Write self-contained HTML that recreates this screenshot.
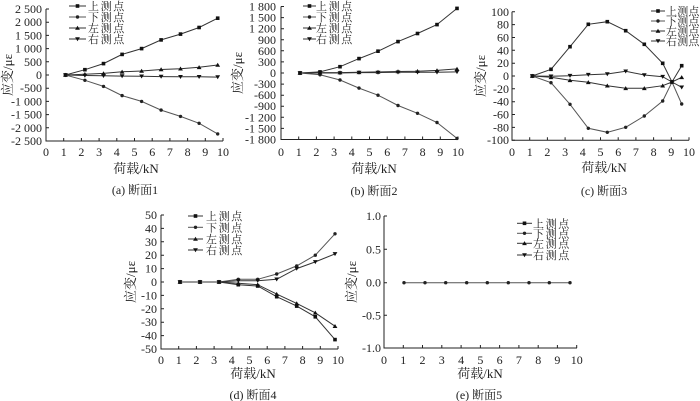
<!DOCTYPE html>
<html><head><meta charset="utf-8"><style>
html,body{margin:0;padding:0;background:#fff;}
svg{display:block;}
text{font-family:"Liberation Serif","Noto Serif CJK SC",serif;fill:#222;}
.t{font-size:12px;}
.r{text-anchor:end;}
.m{text-anchor:middle;}
.lg{font-size:11px;letter-spacing:1.6px;font-family:"Liberation Serif","Noto Serif CJK SC",serif;}
.lgc{font-size:11px;letter-spacing:0.2px;font-family:"Liberation Serif","Noto Serif CJK SC",serif;}
.ti{font-size:13px;font-family:"Liberation Serif","Noto Serif CJK SC",serif;}
.cap{font-size:12px;font-family:"Liberation Serif","Noto Serif CJK SC",serif;}
.ax{stroke:#222;stroke-width:1;fill:none;}
.s{stroke:#333;stroke-width:1;fill:none;}
.s2{stroke:#555;stroke-width:1;fill:none;}
.sq{marker-start:url(#msq);marker-mid:url(#msq);marker-end:url(#msq);}
.ci{marker-start:url(#mci);marker-mid:url(#mci);marker-end:url(#mci);}
.tu{marker-start:url(#mtu);marker-mid:url(#mtu);marker-end:url(#mtu);}
.td{marker-start:url(#mtd);marker-mid:url(#mtd);marker-end:url(#mtd);}
.lsq{marker-mid:url(#msq);}
.lci{marker-mid:url(#mci);}
.ltu{marker-mid:url(#mtu);}
.ltd{marker-mid:url(#mtd);}
</style></head><body>
<svg width="700" height="401" viewBox="0 0 700 401" xmlns="http://www.w3.org/2000/svg">
<defs>
<marker id="msq" markerWidth="6" markerHeight="6" refX="3" refY="3" markerUnits="userSpaceOnUse"><rect x="1.2" y="1.2" width="3.6" height="3.6" fill="#111"/></marker>
<marker id="mci" markerWidth="6" markerHeight="6" refX="3" refY="3" markerUnits="userSpaceOnUse"><circle cx="3" cy="3" r="1.7" fill="#222"/></marker>
<marker id="mtu" markerWidth="6" markerHeight="6" refX="3" refY="3" markerUnits="userSpaceOnUse"><path d="M3 0.8 L5.4 4.8 L0.6 4.8Z" fill="#111"/></marker>
<marker id="mtd" markerWidth="6" markerHeight="6" refX="3" refY="3" markerUnits="userSpaceOnUse"><path d="M0.6 1.2 L5.4 1.2 L3 5.2Z" fill="#111"/></marker>
</defs>
<rect width="700" height="401" fill="#fff"/>

<!-- ===== (a) ===== -->
<g>
<path class="ax" d="M46 9 V141 H223"/>
<path class="ax" d="M46 9h3M46 22.2h3M46 35.4h3M46 48.6h3M46 61.8h3M46 75h3M46 88.2h3M46 101.4h3M46 114.6h3M46 127.8h3M46 141h3"/>
<path class="ax" d="M63.7 141v-3M81.4 141v-3M99.1 141v-3M116.8 141v-3M134.5 141v-3M152.2 141v-3M169.9 141v-3M187.6 141v-3M205.3 141v-3M223 141v-3"/>
<g class="t r">
<text x="42" y="13">2 500</text><text x="42" y="26.2">2 000</text><text x="42" y="39.4">1 500</text><text x="42" y="52.6">1 000</text><text x="42" y="65.8">500</text><text x="42" y="79">0</text><text x="42" y="92.2">-500</text><text x="42" y="105.4">-1 000</text><text x="42" y="118.6">-1 500</text><text x="42" y="131.8">-2 000</text><text x="42" y="145">-2 500</text>
</g>
<g class="t m">
<text x="46" y="156">0</text><text x="63.7" y="156">1</text><text x="81.4" y="156">2</text><text x="99.1" y="156">3</text><text x="116.8" y="156">4</text><text x="134.5" y="156">5</text><text x="152.2" y="156">6</text><text x="169.9" y="156">7</text><text x="187.6" y="156">8</text><text x="205.3" y="156">9</text><text x="223" y="156">10</text>
</g>
<polyline class="s sq" points="65.5,75 84.9,69.7 103.5,63.6 122.1,54.4 141.6,48.6 161.1,39.9 180.5,34.1 199.1,27.5 217.7,18.2"/>
<polyline class="s2 ci" points="65.5,75 84.9,80.3 103.5,86.4 122.1,95.6 141.6,101.4 161.1,110.1 180.5,116.4 199.1,123.3 217.7,133.9"/>
<polyline class="s tu" points="65.5,75 84.9,74.2 103.5,73.4 122.1,71.8 141.6,71 161.1,69.5 180.5,68.7 199.1,67.3 217.7,65"/>
<polyline class="s td" points="65.5,75 84.9,75.5 103.5,75.8 122.1,76.1 141.6,76.3 161.1,76.6 180.5,76.8 199.1,76.8 217.7,77.1"/>
<polyline class="s lsq" points="69,6 77.5,6 86,6"/><text class="lg" x="88" y="10">上测点</text>
<polyline class="s2 lci" points="69,17 77.5,17 86,17"/><text class="lg" x="88" y="21">下测点</text>
<polyline class="s ltu" points="69,28 77.5,28 86,28"/><text class="lg" x="88" y="32">左测点</text>
<polyline class="s ltd" points="69,39 77.5,39 86,39"/><text class="lg" x="88" y="43">右测点</text>
<text class="ti m" transform="translate(12,75) rotate(-90)">应变/με</text>
<text class="ti m" x="136" y="173">荷载/kN</text>
<text class="cap m" x="135" y="194">(a) 断面1</text>
</g>

<!-- ===== (b) ===== -->
<g>
<path class="ax" d="M281 6.5 V139.5 H458"/>
<path class="ax" d="M281 6.5h3M281 17.6h3M281 28.7h3M281 39.8h3M281 50.8h3M281 61.9h3M281 73h3M281 84.1h3M281 95.2h3M281 106.2h3M281 117.3h3M281 128.4h3M281 139.5h3"/>
<path class="ax" d="M298.7 139.5v-3M316.4 139.5v-3M334.1 139.5v-3M351.8 139.5v-3M369.5 139.5v-3M387.2 139.5v-3M404.9 139.5v-3M422.6 139.5v-3M440.3 139.5v-3M458 139.5v-3"/>
<g class="t r">
<text x="276" y="10.5">1 800</text><text x="276" y="21.6">1 500</text><text x="276" y="32.7">1 200</text><text x="276" y="43.8">900</text><text x="276" y="54.8">600</text><text x="276" y="65.9">300</text><text x="276" y="77">0</text><text x="276" y="88.1">-300</text><text x="276" y="99.2">-600</text><text x="276" y="110.2">-900</text><text x="276" y="121.3">-1 200</text><text x="276" y="132.4">-1 500</text><text x="276" y="143.5">-1 800</text>
</g>
<g class="t m">
<text x="281" y="156">0</text><text x="298.7" y="156">1</text><text x="316.4" y="156">2</text><text x="334.1" y="156">3</text><text x="351.8" y="156">4</text><text x="369.5" y="156">5</text><text x="387.2" y="156">6</text><text x="404.9" y="156">7</text><text x="422.6" y="156">8</text><text x="440.3" y="156">9</text><text x="458" y="156">10</text>
</g>
<polyline class="s sq" points="300,73 320,71.9 340,66.7 359,58.6 378,51.2 398,41.6 417.5,33.5 437,24.6 457,8.4"/>
<polyline class="s2 ci" points="300,73 320,74.8 340,80 359,88.1 378,95.2 398,105.5 417.5,113.3 437,122.5 457,138.4"/>
<polyline class="s tu" points="300,73 320,72.6 340,72.6 359,72.3 378,71.9 398,71.5 417.5,71.2 437,70.4 457,68.9"/>
<polyline class="s td" points="300,73 320,73 340,73 359,72.6 378,72.6 398,72.3 417.5,72.3 437,72.3 457,71.9"/>
<polyline class="s lsq" points="303,6 309.5,6 316,6"/><text class="lg" x="316" y="10">上测点</text>
<polyline class="s2 lci" points="303,17 309.5,17 316,17"/><text class="lg" x="316" y="21">下测点</text>
<polyline class="s ltu" points="303,28 309.5,28 316,28"/><text class="lg" x="316" y="32">左测点</text>
<polyline class="s ltd" points="303,39 309.5,39 316,39"/><text class="lg" x="316" y="43">右测点</text>
<text class="ti m" transform="translate(242,73) rotate(-90)">应变/με</text>
<text class="ti m" x="374" y="173">荷载/kN</text>
<text class="cap m" x="374" y="195">(b) 断面2</text>
</g>

<!-- ===== (c) ===== -->
<g>
<path class="ax" d="M512 11.8 V140.2 H689"/>
<path class="ax" d="M512 11.8h3M512 24.6h3M512 37.5h3M512 50.3h3M512 63.2h3M512 76h3M512 88.8h3M512 101.7h3M512 114.5h3M512 127.4h3M512 140.2h3"/>
<path class="ax" d="M529.7 140.2v-3M547.4 140.2v-3M565.1 140.2v-3M582.8 140.2v-3M600.5 140.2v-3M618.2 140.2v-3M635.9 140.2v-3M653.6 140.2v-3M671.3 140.2v-3M689 140.2v-3"/>
<g class="t r">
<text x="509" y="15.8">100</text><text x="509" y="28.6">80</text><text x="509" y="41.5">60</text><text x="509" y="54.3">40</text><text x="509" y="67.2">20</text><text x="509" y="80">0</text><text x="509" y="92.8">-20</text><text x="509" y="105.7">-40</text><text x="509" y="118.5">-60</text><text x="509" y="131.4">-80</text><text x="509" y="144.2">-100</text>
</g>
<g class="t m">
<text x="512" y="156">0</text><text x="529.7" y="156">1</text><text x="547.4" y="156">2</text><text x="565.1" y="156">3</text><text x="582.8" y="156">4</text><text x="600.5" y="156">5</text><text x="618.2" y="156">6</text><text x="635.9" y="156">7</text><text x="653.6" y="156">8</text><text x="671.3" y="156">9</text><text x="689" y="156">10</text>
</g>
<polyline class="s sq" points="532.3,76 551,69.3 570,46.7 588.3,24.3 607.3,21.7 625.7,30.7 644.3,44.3 662.7,63.3 672,82 681.7,65.7"/>
<polyline class="s2 ci" points="532.3,76 551,82.7 570,104.3 588.3,128.3 607.3,132.3 625.7,127.3 644.3,116 662.7,101 672,82 681.7,104"/>
<polyline class="s tu" points="532.3,76 551,77.3 570,80.3 588.3,82.3 607.3,85.7 625.7,88.3 644.3,88.3 662.7,85.7 672,82 681.7,77.3"/>
<polyline class="s td" points="532.3,76 551,76.3 570,75.7 588.3,74.7 607.3,74 625.7,71.3 644.3,75 662.7,76.7 672,82 681.7,87.3"/>
<polyline class="s lsq" points="651,11 658,11 665,11"/><text class="lgc" x="666" y="15">上测点</text>
<polyline class="s2 lci" points="651,21 658,21 665,21"/><text class="lgc" x="666" y="25">下测点</text>
<polyline class="s ltu" points="651,31 658,31 665,31"/><text class="lgc" x="666" y="35">左测点</text>
<polyline class="s ltd" points="651,41 658,41 665,41"/><text class="lgc" x="666" y="45">右测点</text>
<text class="ti m" transform="translate(485,76) rotate(-90)">应变/με</text>
<text class="ti m" x="604" y="172">荷载/kN</text>
<text class="cap m" x="604" y="195">(c) 断面3</text>
</g>

<!-- ===== (d) ===== -->
<g>
<path class="ax" d="M161 215 V349 H338"/>
<path class="ax" d="M161 215h3M161 228.4h3M161 241.8h3M161 255.2h3M161 268.6h3M161 282h3M161 295.4h3M161 308.8h3M161 322.2h3M161 335.6h3M161 349h3"/>
<path class="ax" d="M178.7 349v-3M196.4 349v-3M214.1 349v-3M231.8 349v-3M249.5 349v-3M267.2 349v-3M284.9 349v-3M302.6 349v-3M320.3 349v-3M338 349v-3"/>
<g class="t r">
<text x="157" y="219">50</text><text x="157" y="232.4">40</text><text x="157" y="245.8">30</text><text x="157" y="259.2">20</text><text x="157" y="272.6">10</text><text x="157" y="286">0</text><text x="157" y="299.4">-10</text><text x="157" y="312.8">-20</text><text x="157" y="326.2">-30</text><text x="157" y="339.6">-40</text><text x="157" y="353">-50</text>
</g>
<g class="t m">
<text x="161" y="364">0</text><text x="178.7" y="364">1</text><text x="196.4" y="364">2</text><text x="214.1" y="364">3</text><text x="231.8" y="364">4</text><text x="249.5" y="364">5</text><text x="267.2" y="364">6</text><text x="284.9" y="364">7</text><text x="302.6" y="364">8</text><text x="320.3" y="364">9</text><text x="338" y="364">10</text>
</g>
<polyline class="s sq" points="180,282 200,282 219,282 238.3,284.7 257.7,286 276.7,296.7 296.7,306.1 315.3,316.8 335,339.6"/>
<polyline class="s2 ci" points="180,282 200,282 219,282 238.3,279.3 257.7,279.3 276.7,274 296.7,265.9 315.3,255.2 335,233.8"/>
<polyline class="s tu" points="180,282 200,282 219,282 238.3,283.3 257.7,284.7 276.7,294.1 296.7,303.4 315.3,312.8 335,326.2"/>
<polyline class="s td" points="180,282 200,282 219,282 238.3,280.7 257.7,280.7 276.7,279.3 296.7,268.6 315.3,261.9 335,253.9"/>
<polyline class="s lsq" points="188,216 195.5,216 203,216"/><text class="lg" x="206" y="220">上测点</text>
<polyline class="s2 lci" points="188,227.3 195.5,227.3 203,227.3"/><text class="lg" x="206" y="231.3">下测点</text>
<polyline class="s ltu" points="188,239 195.5,239 203,239"/><text class="lg" x="206" y="243">左测点</text>
<polyline class="s ltd" points="188,250 195.5,250 203,250"/><text class="lg" x="206" y="254">右测点</text>
<text class="ti m" transform="translate(135,282) rotate(-90)">应变/με</text>
<text class="ti m" x="253" y="378">荷载/kN</text>
<text class="cap m" x="253" y="399">(d) 断面4</text>
</g>

<!-- ===== (e) ===== -->
<g>
<path class="ax" d="M384 216 V348 H577"/>
<path class="ax" d="M384 216h3M384 249.3h3M384 282.7h3M384 315.3h3M384 348h3"/>
<path class="ax" d="M403.3 348v-3M422.5 348v-3M441.8 348v-3M461.1 348v-3M480.4 348v-3M499.6 348v-3M518.9 348v-3M538.2 348v-3M557.4 348v-3M576.7 348v-3"/>
<g class="t r">
<text x="381" y="220">1.0</text><text x="381" y="253.3">0.5</text><text x="381" y="286.7">0.0</text><text x="381" y="319.3">-0.5</text><text x="381" y="352">-1.0</text>
</g>
<g class="t m">
<text x="384" y="364">0</text><text x="403.3" y="364">1</text><text x="422.5" y="364">2</text><text x="441.8" y="364">3</text><text x="461.1" y="364">4</text><text x="480.4" y="364">5</text><text x="499.6" y="364">6</text><text x="518.9" y="364">7</text><text x="538.2" y="364">8</text><text x="557.4" y="364">9</text><text x="576.7" y="364">10</text>
</g>
<polyline class="s2 ci" points="404,282.7 425,282.7 445.7,282.7 466.7,282.7 487.3,282.7 508.3,282.7 529,282.7 549.3,282.7 570,282.7"/>
<polyline class="s lsq" points="517,223.3 524.5,223.3 532,223.3"/><text class="lg" x="533" y="227.3">上测点</text>
<polyline class="s2 lci" points="517,233.3 524.5,233.3 532,233.3"/><text class="lg" x="533" y="237.3">下测点</text>
<polyline class="s ltu" points="517,243.3 524.5,243.3 532,243.3"/><text class="lg" x="533" y="247.3">左测点</text>
<polyline class="s ltd" points="517,255 524.5,255 532,255"/><text class="lg" x="533" y="259">右测点</text>
<text class="ti m" transform="translate(356,282) rotate(-90)">应变/με</text>
<text class="ti m" x="480" y="378">荷载/kN</text>
<text class="cap m" x="479" y="399">(e) 断面5</text>
</g>
</svg>
</body></html>
